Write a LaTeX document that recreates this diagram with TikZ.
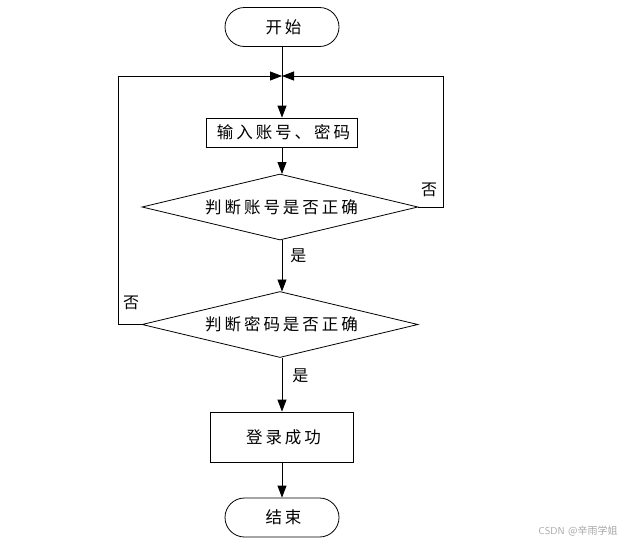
\documentclass[tikz,border=0pt]{standalone}
\usepackage{fontspec}
\newfontfamily\cjk[LetterSpace=18]{Noto Sans CJK SC}
\newfontfamily\cjkplain{Noto Sans CJK SC}
\usetikzlibrary{shapes.geometric,shapes.misc,arrows.meta}
\begin{document}
\begin{tikzpicture}[x=1pt,y=-1pt,
  base/.style={draw=black,line width=0.8pt,font=\cjk\fontsize{16.5}{18}\selectfont,inner sep=0pt},
  term/.style={base,rounded rectangle,minimum width=114pt,minimum height=39pt},
  proc/.style={base,rectangle,minimum width=151pt,minimum height=29pt},
  proc2/.style={base,rectangle,minimum width=143pt,minimum height=50pt},
  dec/.style={base,diamond,aspect=4.2,minimum width=276pt,minimum height=66pt},
  lbl/.style={font=\cjk\fontsize{16}{18}\selectfont,inner sep=0pt},
  arr/.style={line width=0.8pt,-{Triangle[length=12pt,width=9pt]}},
  ln/.style={line width=0.8pt}]
\useasboundingbox (0,0) rectangle (629,544);
\node[term] (start) at (282,27) {\hspace*{3pt}开始};
\coordinate (m) at (282,76);
\node[proc] (inp) at (282,132.5) {\hspace*{3pt}输入账号、密码};
\node[dec] (d1) at (280,207) {\hspace*{3pt}判断账号是否正确};
\node[dec] (d2) at (280,324.5) {\hspace*{3pt}判断密码是否正确};
\node[proc2] (ok) at (282,437) {\hspace*{3pt}登录成功};
\node[term] (end) at (282,517.5) {\hspace*{3pt}结束};
\coordinate (rtop) at (443,76);
\coordinate (ltop) at (118,76);
\draw[ln] (start.south) -- (m);
\draw[arr] (m) -- (inp.north);
\draw[arr] (inp.south) -- (282,174);
\draw[arr] (282,240) -- (282,291.5) node[lbl,pos=0.3,right=8pt] (y1) {是};
\draw[arr] (282,357.5) -- (ok.north) node[lbl,pos=0.33,right=10pt] (y2) {是};
\draw[arr] (ok.south) -- (end.north);
\draw[arr] (d1.east) -| (rtop) -- (m);
\draw[arr] (d2.west) -| (ltop) -- (m);
\node[lbl] (n1) at (429,190) {否};
\node[lbl] (n2) at (131,303) {否};
\node[font=\fontsize{10}{11}\selectfont,text=gray!70,inner sep=0pt] (wm) at (578,531) {\sffamily CSDN \cjkplain @辛雨学姐};
\end{tikzpicture}
\end{document}
